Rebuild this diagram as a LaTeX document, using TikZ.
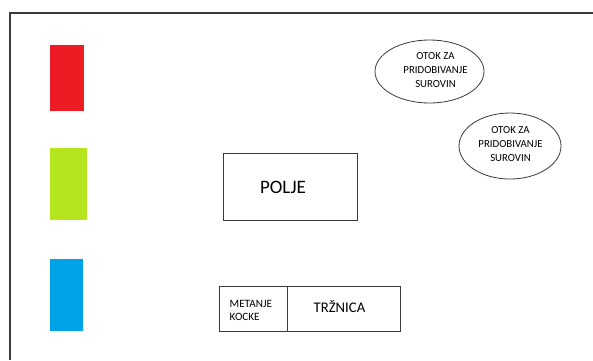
\documentclass[tikz,border=0pt]{standalone}
\usepackage{fontspec}
\setmainfont{Carlito}
\usetikzlibrary{shapes.geometric}
\definecolor{pred}{HTML}{ED1C24}
\definecolor{pgreen}{HTML}{B5E61D}
\definecolor{pblue}{HTML}{00A2E8}
\definecolor{lin}{HTML}{3A3A3A}
\begin{document}
\begin{tikzpicture}[x=1pt,y=-1pt,
  swatch/.style={draw=none,inner sep=0pt,outer sep=0pt},
  box/.style={draw=lin,line width=1pt,inner sep=0pt,outer sep=0pt},
  isle/.style={ellipse,draw=lin,line width=0.8pt,inner sep=0pt,minimum width=109pt,minimum height=63pt},
  small/.style={font=\fontsize{10.8}{14}\selectfont,align=center,inner sep=0pt},
]
\useasboundingbox (0,0) rectangle (593,360);
\fill[white] (0,0) rectangle (593,360);
% frame
\coordinate (ftr) at (593,13);
\coordinate (ftl) at (10,13);
\coordinate (fbl) at (10,360);
\draw[lin,line width=1.5pt] (ftr) -- (ftl) -- (fbl);
% colour swatches
\node[swatch,fill=pred,minimum width=34pt,minimum height=66pt] (red) at (67,78) {};
\node[swatch,fill=pgreen,minimum width=37pt,minimum height=72pt] (green) at (68.5,184) {};
\node[swatch,fill=pblue,minimum width=33pt,minimum height=72pt] (blue) at (66.5,295) {};
% field
\node[box,minimum width=134pt,minimum height=67pt] (polje) at (290,186.5) {};
\node[font=\fontsize{19}{22}\selectfont,inner sep=0pt] (poljet) at (283,187.5) {POLJE};
% market
\node[box,minimum width=68pt,minimum height=45pt] (metanje) at (253,308.5) {};
\node[box,minimum width=113pt,minimum height=45pt] (trznica) at (343.5,308.5) {};
\node[font=\fontsize{11.2}{13}\selectfont,align=left,inner sep=0pt,anchor=west] (metanjet) at (229.5,310) {METANJE\\KOCKE};
\node[font=\fontsize{14.7}{17}\selectfont,inner sep=0pt] (trznicat) at (339.5,306.5) {TRŽNICA};
% islands
\node[isle] (otok1) at (429.5,71.5) {};
\node[small] (otok1t) at (435.5,70.5) {OTOK ZA\\PRIDOBIVANJE\\SUROVIN};
\node[isle,minimum width=102pt,minimum height=66pt] (otok2) at (510,146) {};
\node[small] (otok2t) at (510.5,144.5) {OTOK ZA\\PRIDOBIVANJE\\SUROVIN};
\end{tikzpicture}
\end{document}
